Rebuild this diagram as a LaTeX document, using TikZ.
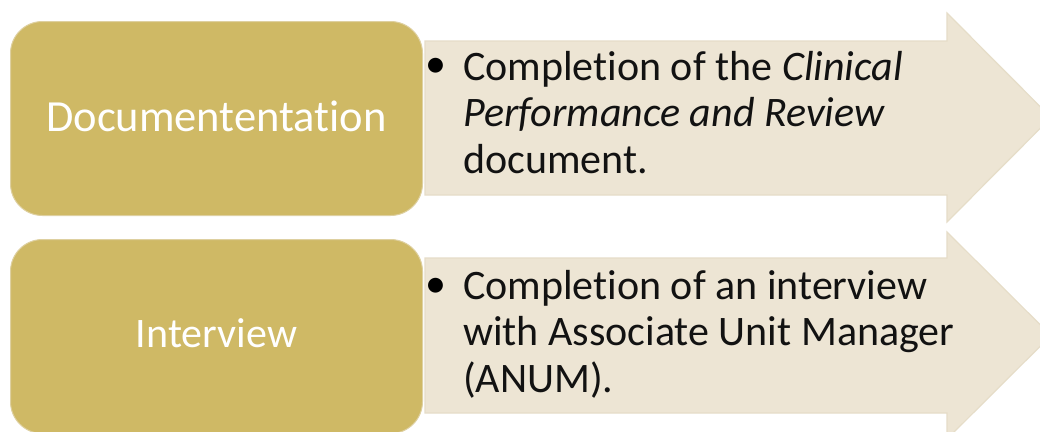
\documentclass[tikz,border=0pt]{standalone}
\usepackage{fontspec}
\setmainfont{Carlito}[Ligatures=NoCommon]
\definecolor{goldfill}{RGB}{207,185,101}
\definecolor{goldedge}{RGB}{222,208,160}
\definecolor{beigefill}{RGB}{237,229,212}
\definecolor{beigeedge}{RGB}{230,221,200}
\begin{document}
\begin{tikzpicture}[x=1pt,y=-1pt,
  labelbox/.style={fill=goldfill, draw=goldedge, line width=1pt, rounded corners=32pt,
    minimum width=412pt, minimum height=194pt, anchor=north west,
    text=white, font={\fontsize{42}{46.5}\selectfont}},
  arrowshape/.style={fill=beigefill, draw=beigeedge, line width=1.2pt, line join=miter},
  bodytext/.style={align=left, inner sep=0pt, text=black!93,
    font={\fontsize{42}{46.5}\selectfont}},
  bulletmark/.style={inner sep=0pt, text=black, font={\fontsize{42}{46.5}\selectfont}}]
\useasboundingbox (0,0) rectangle (1040,431);
\clip (0,0) rectangle (1040,431);
\fill[white] (0,0) rectangle (1040,431);

% arrows
\draw[arrowshape] (425,41) -- (947,41) -- (947,13) -- (1051,117.5) -- (947,222) -- (947,195) -- (425,195) -- cycle;
\draw[arrowshape] (425,258) -- (947,258) -- (947,232) -- (1051,335.5) -- (947,439) -- (947,413) -- (425,413) -- cycle;

% left boxes
\node[labelbox, font={\fontsize{44.5}{48}\selectfont}, text depth=5pt] (doc) at (10,21) {Documententation};
\node[labelbox, text depth=7pt] (int) at (10,239) {Interview};

% bullet texts
\node[bulletmark] (b1) at (436,68) {•};
\node[bodytext, anchor=base west] (t1) at (463,173) {Completion of the \textit{Clinical}\\\textit{Performance and Review}\\document.};
\node[bulletmark] (b2) at (436,288) {•};
\node[bodytext, anchor=base west] (t2) at (463,392) {Completion of an interview\\with Associate Unit Manager\\(ANUM).};
\end{tikzpicture}
\end{document}
